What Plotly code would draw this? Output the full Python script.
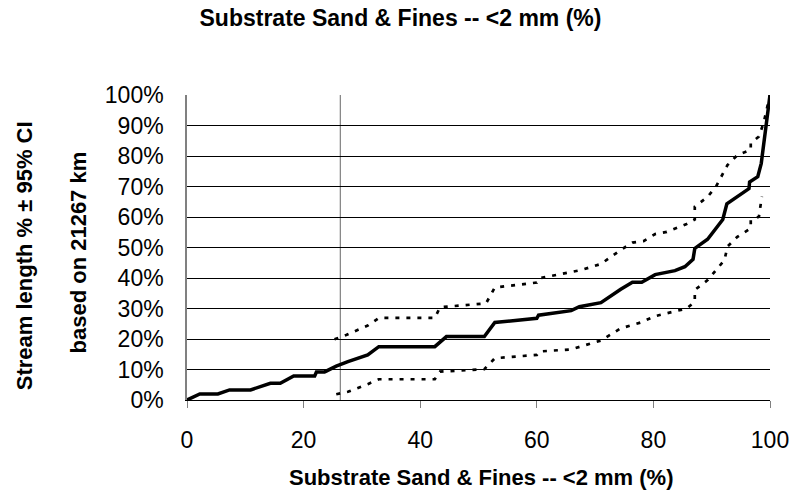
import plotly.graph_objects as go

# Cumulative stream length (%) against substrate sand & fines (%)
est_x = [0, 2.2, 5.3, 7.3, 10.9, 14.3, 16.0, 18.3, 21.9, 22.2, 23.6, 25.6, 27.6, 31.0,
         32.9, 42.5, 44.5, 51.0, 52.8, 60.0, 60.3, 65.9, 67.3, 71.0, 74.4, 76.4, 78.0,
         80.3, 83.7, 85.4, 86.8, 87.1, 89.3, 91.9, 92.6, 94.7, 96.4, 96.5, 97.9, 98.5, 100]
est_y = [0, 2.0, 2.0, 3.3, 3.3, 5.5, 5.5, 7.9, 7.9, 9.2, 9.2, 11.1, 12.6, 14.8,
         17.5, 17.5, 20.8, 20.8, 25.4, 26.8, 27.8, 29.3, 30.6, 31.9, 36.3, 38.6, 38.6,
         41.1, 42.4, 43.7, 46.1, 49.7, 52.7, 59.2, 64.3, 67.2, 69.3, 71.5, 73.2, 77.6, 100]

# Upper 95% confidence bound
upper_x = [25.3, 27.3, 31.0, 32.9, 42.5, 43.4, 51.3, 52.8, 60.0, 60.4, 67.6, 71.0, 74.4,
           76.4, 78.3, 80.3, 82.3, 85.7, 87.1, 87.1, 89.3, 90.8, 92.7, 94.4, 96.7, 96.7,
           98.1, 98.9, 100]
upper_y = [19.9, 21.3, 24.4, 26.9, 26.9, 30.4, 31.7, 36.9, 38.5, 39.9, 42.6, 44.6, 49.2,
           51.6, 52.1, 54.4, 55.1, 57.7, 59.2, 63.4, 66.6, 70.2, 77.0, 80.3, 82.0, 84.2,
           86.4, 90.8, 100]

# Lower 95% confidence bound
lower_x = [25.6, 27.6, 31.0, 32.9, 42.5, 43.4, 51.0, 52.8, 60.0, 60.4, 65.9, 71.0, 74.4,
           77.8, 80.3, 85.7, 87.1, 87.1, 89.3, 92.2, 92.7, 94.4, 96.7, 96.7, 98.1, 98.6]
lower_y = [1.9, 2.7, 5.2, 6.8, 6.8, 9.3, 10.1, 13.7, 14.8, 15.9, 16.6, 19.5, 23.5,
           25.4, 27.5, 30.0, 32.2, 36.1, 39.3, 45.9, 50.3, 53.5, 56.3, 59.0, 60.1, 66.7]

# Reference value marked with a vertical line
marker_value = 26.3

x_ticks = [0, 20, 40, 60, 80, 100]
y_ticks = [0, 10, 20, 30, 40, 50, 60, 70, 80, 90, 100]
y_labels = [f"{v}%" for v in y_ticks]

title_text = "Substrate Sand & Fines -- <2 mm (%)"
x_title = "Substrate Sand & Fines -- <2 mm (%)"
y_title_1 = "Stream length % ± 95% CI"
y_title_2 = "based on 21267 km"

FONT = "Liberation Sans, Arial, sans-serif"

fig = go.Figure()

fig.add_trace(go.Scatter(x=upper_x, y=upper_y, mode="lines",
                         line=dict(color="black", width=2.7, dash="4px,7px"),
                         showlegend=False, hoverinfo="skip"))
fig.add_trace(go.Scatter(x=lower_x, y=lower_y, mode="lines",
                         line=dict(color="black", width=2.7, dash="4px,7px"),
                         showlegend=False, hoverinfo="skip"))
fig.add_trace(go.Scatter(x=est_x, y=est_y, mode="lines",
                         line=dict(color="black", width=3.5),
                         showlegend=False, hoverinfo="skip"))

fig.add_vline(x=marker_value, line=dict(color="#808080", width=1.2), layer="below")

fig.update_layout(
    width=801, height=495,
    margin=dict(l=187, r=23, t=95, b=95),
    paper_bgcolor="white", plot_bgcolor="white",
    font=dict(family=FONT, color="black", size=23),
    title=dict(text=f"<b>{title_text}</b>", x=0.5, xref="container", xanchor="center",
               y=1 - 18 / 495, yref="container", yanchor="middle",
               font=dict(family=FONT, size=23, color="black")),
    xaxis=dict(range=[0, 100], tickvals=x_ticks, ticks="outside", ticklen=7,
               tickcolor="#808080", tickwidth=1, showline=True, linecolor="black",
               linewidth=1, showgrid=False, zeroline=False,
               tickfont=dict(family=FONT, size=23), ticklabelstandoff=12),
    yaxis=dict(range=[0, 100], tickvals=y_ticks, ticktext=y_labels, ticks="",
               showline=True, linecolor="#808080", linewidth=1.5,
               showgrid=True, gridcolor="black", gridwidth=1, zeroline=False,
               tickfont=dict(family=FONT, size=23), ticklabelstandoff=17),
)

fig.add_annotation(text=f"<b>{x_title}</b>", xref="paper", yref="paper",
                   x=(485 - 187) / 591, y=(400 - 477) / 305, xanchor="center",
                   yanchor="middle", showarrow=False,
                   font=dict(family=FONT, size=22, color="black"))
fig.add_annotation(text=f"<b>{y_title_1}</b>", xref="paper", yref="paper",
                   x=(22 - 187) / 591, y=(400 - 256) / 305, xanchor="center",
                   yanchor="middle", textangle=-90, showarrow=False,
                   font=dict(family=FONT, size=22, color="black"))
fig.add_annotation(text=f"<b>{y_title_2}</b>", xref="paper", yref="paper",
                   x=(76 - 187) / 591, y=(400 - 253) / 305, xanchor="center",
                   yanchor="middle", textangle=-90, showarrow=False,
                   font=dict(family=FONT, size=22, color="black"))

fig.write_html("out.html")
